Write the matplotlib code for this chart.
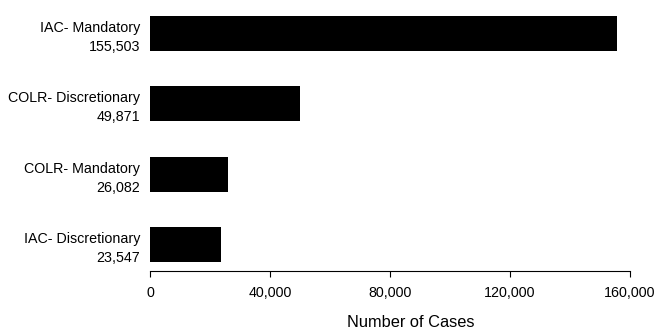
import numpy as np
import matplotlib.pyplot as plt

plt.rcParams['font.family'] = ['Liberation Sans', 'DejaVu Sans']

# data, bottom to top
categories = ['IAC- Discretionary', 'COLR- Mandatory', 'COLR- Discretionary', 'IAC- Mandatory']
cases = [23547, 26082, 49871, 155503]
xticks = [0, 40000, 80000, 120000, 160000]

labels = ['%s\n%s' % (c, format(v, ',')) for c, v in zip(categories, cases)]
ypos = np.arange(len(cases))

fig = plt.figure(figsize=(6.6, 3.31), dpi=100)
ax = fig.add_axes([150/660, 60/331, 480/660, 269/331])

ax.barh(ypos, cases, height=0.5, color='black')

ax.set_xlim(0, 160000)
ax.set_ylim(-0.377, 3.45)
ax.set_xticks(xticks)
ax.set_xticklabels([format(t, ',') for t in xticks], fontsize=10.3)
ax.set_yticks(ypos)
ax.set_yticklabels(labels, fontsize=10.3, linespacing=1.45)

ax.tick_params(axis='y', length=0, pad=7)
ax.tick_params(axis='x', length=4, width=0.8, pad=7, direction='out')

for s in ['top', 'right', 'left']:
    ax.spines[s].set_visible(False)
ax.spines['bottom'].set_linewidth(0.8)

ax.set_xlabel('Number of Cases', fontsize=11.8, va='center')
ax.xaxis.set_label_coords(0.544, -0.193)

plt.savefig('out.png', dpi=100)
